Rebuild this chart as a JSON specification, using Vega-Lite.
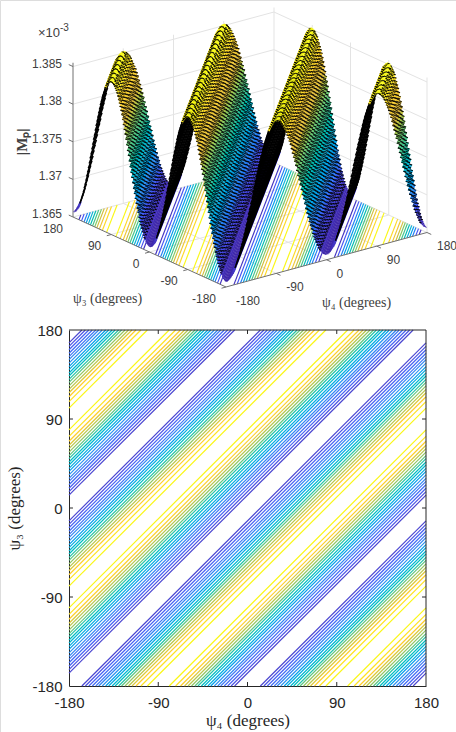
{"$schema":"https://vega.github.io/schema/vega-lite/v6.json","width":456,"height":732,"autosize":{"type":"none"},"padding":0,"background":"white",
"datasets":{
"surface":[
{"d":-360,"z":1.3657},{"d":-358,"z":1.3657},{"d":-356,"z":1.3658},{"d":-354,"z":1.3659},{"d":-352,"z":1.3661},{"d":-350,"z":1.3663},{"d":-348,"z":1.3665},{"d":-346,"z":1.3668},{"d":-344,"z":1.3672},{"d":-342,"z":1.3676},{"d":-340,"z":1.368},{"d":-338,"z":1.3684},{"d":-336,"z":1.3689},{"d":-334,"z":1.3695},{"d":-332,"z":1.37},{"d":-330,"z":1.3706},{"d":-328,"z":1.3712},{"d":-326,"z":1.3718},{"d":-324,"z":1.3724},{"d":-322,"z":1.3731},{"d":-320,"z":1.3738},{"d":-318,"z":1.3744},{"d":-316,"z":1.3751},{"d":-314,"z":1.3758},{"d":-312,"z":1.3765},{"d":-310,"z":1.3771},{"d":-308,"z":1.3778},{"d":-306,"z":1.3785},{"d":-304,"z":1.3791},{"d":-302,"z":1.3797},{"d":-300,"z":1.3803},{"d":-298,"z":1.3809},{"d":-296,"z":1.3815},{"d":-294,"z":1.382},{"d":-292,"z":1.3825},{"d":-290,"z":1.3829},{"d":-288,"z":1.3833},{"d":-286,"z":1.3837},{"d":-284,"z":1.3841},{"d":-282,"z":1.3844},{"d":-280,"z":1.3846},{"d":-278,"z":1.3848},{"d":-276,"z":1.385},{"d":-274,"z":1.3851},{"d":-272,"z":1.3852},{"d":-270,"z":1.3852},
{"d":-268,"z":1.3852},{"d":-266,"z":1.3851},{"d":-264,"z":1.385},{"d":-262,"z":1.3848},{"d":-260,"z":1.3846},{"d":-258,"z":1.3844},{"d":-256,"z":1.3841},{"d":-254,"z":1.3837},{"d":-252,"z":1.3833},{"d":-250,"z":1.3829},{"d":-248,"z":1.3825},{"d":-246,"z":1.382},{"d":-244,"z":1.3815},{"d":-242,"z":1.3809},{"d":-240,"z":1.3803},{"d":-238,"z":1.3797},{"d":-236,"z":1.3791},{"d":-234,"z":1.3785},{"d":-232,"z":1.3778},{"d":-230,"z":1.3771},{"d":-228,"z":1.3765},{"d":-226,"z":1.3758},{"d":-224,"z":1.3751},{"d":-222,"z":1.3744},{"d":-220,"z":1.3738},{"d":-218,"z":1.3731},{"d":-216,"z":1.3724},{"d":-214,"z":1.3718},{"d":-212,"z":1.3712},{"d":-210,"z":1.3706},{"d":-208,"z":1.37},{"d":-206,"z":1.3695},{"d":-204,"z":1.3689},{"d":-202,"z":1.3684},{"d":-200,"z":1.368},{"d":-198,"z":1.3676},{"d":-196,"z":1.3672},{"d":-194,"z":1.3668},{"d":-192,"z":1.3665},{"d":-190,"z":1.3663},{"d":-188,"z":1.3661},{"d":-186,"z":1.3659},{"d":-184,"z":1.3658},{"d":-182,"z":1.3657},
{"d":-180,"z":1.3657},{"d":-178,"z":1.3657},{"d":-176,"z":1.3658},{"d":-174,"z":1.3659},{"d":-172,"z":1.3661},{"d":-170,"z":1.3663},{"d":-168,"z":1.3665},{"d":-166,"z":1.3668},{"d":-164,"z":1.3672},{"d":-162,"z":1.3676},{"d":-160,"z":1.368},{"d":-158,"z":1.3684},{"d":-156,"z":1.3689},{"d":-154,"z":1.3695},{"d":-152,"z":1.37},{"d":-150,"z":1.3706},{"d":-148,"z":1.3712},{"d":-146,"z":1.3718},{"d":-144,"z":1.3724},{"d":-142,"z":1.3731},{"d":-140,"z":1.3738},{"d":-138,"z":1.3744},{"d":-136,"z":1.3751},{"d":-134,"z":1.3758},{"d":-132,"z":1.3765},{"d":-130,"z":1.3771},{"d":-128,"z":1.3778},{"d":-126,"z":1.3785},{"d":-124,"z":1.3791},{"d":-122,"z":1.3797},{"d":-120,"z":1.3803},{"d":-118,"z":1.3809},{"d":-116,"z":1.3815},{"d":-114,"z":1.382},{"d":-112,"z":1.3825},{"d":-110,"z":1.3829},{"d":-108,"z":1.3833},{"d":-106,"z":1.3837},{"d":-104,"z":1.3841},{"d":-102,"z":1.3844},{"d":-100,"z":1.3846},{"d":-98,"z":1.3848},{"d":-96,"z":1.385},{"d":-94,"z":1.3851},{"d":-92,"z":1.3852},{"d":-90,"z":1.3852},
{"d":-88,"z":1.3852},{"d":-86,"z":1.3851},{"d":-84,"z":1.385},{"d":-82,"z":1.3848},{"d":-80,"z":1.3846},{"d":-78,"z":1.3844},{"d":-76,"z":1.3841},{"d":-74,"z":1.3837},{"d":-72,"z":1.3833},{"d":-70,"z":1.3829},{"d":-68,"z":1.3825},{"d":-66,"z":1.382},{"d":-64,"z":1.3815},{"d":-62,"z":1.3809},{"d":-60,"z":1.3803},{"d":-58,"z":1.3797},{"d":-56,"z":1.3791},{"d":-54,"z":1.3785},{"d":-52,"z":1.3778},{"d":-50,"z":1.3771},{"d":-48,"z":1.3765},{"d":-46,"z":1.3758},{"d":-44,"z":1.3751},{"d":-42,"z":1.3744},{"d":-40,"z":1.3738},{"d":-38,"z":1.3731},{"d":-36,"z":1.3724},{"d":-34,"z":1.3718},{"d":-32,"z":1.3712},{"d":-30,"z":1.3706},{"d":-28,"z":1.37},{"d":-26,"z":1.3695},{"d":-24,"z":1.3689},{"d":-22,"z":1.3684},{"d":-20,"z":1.368},{"d":-18,"z":1.3676},{"d":-16,"z":1.3672},{"d":-14,"z":1.3668},{"d":-12,"z":1.3665},{"d":-10,"z":1.3663},{"d":-8,"z":1.3661},{"d":-6,"z":1.3659},{"d":-4,"z":1.3658},{"d":-2,"z":1.3657},
{"d":0,"z":1.3657},{"d":2,"z":1.3657},{"d":4,"z":1.3658},{"d":6,"z":1.3659},{"d":8,"z":1.3661},{"d":10,"z":1.3663},{"d":12,"z":1.3665},{"d":14,"z":1.3668},{"d":16,"z":1.3672},{"d":18,"z":1.3676},{"d":20,"z":1.368},{"d":22,"z":1.3684},{"d":24,"z":1.3689},{"d":26,"z":1.3695},{"d":28,"z":1.37},{"d":30,"z":1.3706},{"d":32,"z":1.3712},{"d":34,"z":1.3718},{"d":36,"z":1.3724},{"d":38,"z":1.3731},{"d":40,"z":1.3738},{"d":42,"z":1.3744},{"d":44,"z":1.3751},{"d":46,"z":1.3758},{"d":48,"z":1.3765},{"d":50,"z":1.3771},{"d":52,"z":1.3778},{"d":54,"z":1.3785},{"d":56,"z":1.3791},{"d":58,"z":1.3797},{"d":60,"z":1.3803},{"d":62,"z":1.3809},{"d":64,"z":1.3815},{"d":66,"z":1.382},{"d":68,"z":1.3825},{"d":70,"z":1.3829},{"d":72,"z":1.3833},{"d":74,"z":1.3837},{"d":76,"z":1.3841},{"d":78,"z":1.3844},{"d":80,"z":1.3846},{"d":82,"z":1.3848},{"d":84,"z":1.385},{"d":86,"z":1.3851},{"d":88,"z":1.3852},{"d":90,"z":1.3852},
{"d":92,"z":1.3852},{"d":94,"z":1.3851},{"d":96,"z":1.385},{"d":98,"z":1.3848},{"d":100,"z":1.3846},{"d":102,"z":1.3844},{"d":104,"z":1.3841},{"d":106,"z":1.3837},{"d":108,"z":1.3833},{"d":110,"z":1.3829},{"d":112,"z":1.3825},{"d":114,"z":1.382},{"d":116,"z":1.3815},{"d":118,"z":1.3809},{"d":120,"z":1.3803},{"d":122,"z":1.3797},{"d":124,"z":1.3791},{"d":126,"z":1.3785},{"d":128,"z":1.3778},{"d":130,"z":1.3771},{"d":132,"z":1.3765},{"d":134,"z":1.3758},{"d":136,"z":1.3751},{"d":138,"z":1.3744},{"d":140,"z":1.3738},{"d":142,"z":1.3731},{"d":144,"z":1.3724},{"d":146,"z":1.3718},{"d":148,"z":1.3712},{"d":150,"z":1.3706},{"d":152,"z":1.37},{"d":154,"z":1.3695},{"d":156,"z":1.3689},{"d":158,"z":1.3684},{"d":160,"z":1.368},{"d":162,"z":1.3676},{"d":164,"z":1.3672},{"d":166,"z":1.3668},{"d":168,"z":1.3665},{"d":170,"z":1.3663},{"d":172,"z":1.3661},{"d":174,"z":1.3659},{"d":176,"z":1.3658},{"d":178,"z":1.3657},
{"d":180,"z":1.3657},{"d":182,"z":1.3657},{"d":184,"z":1.3658},{"d":186,"z":1.3659},{"d":188,"z":1.3661},{"d":190,"z":1.3663},{"d":192,"z":1.3665},{"d":194,"z":1.3668},{"d":196,"z":1.3672},{"d":198,"z":1.3676},{"d":200,"z":1.368},{"d":202,"z":1.3684},{"d":204,"z":1.3689},{"d":206,"z":1.3695},{"d":208,"z":1.37},{"d":210,"z":1.3706},{"d":212,"z":1.3712},{"d":214,"z":1.3718},{"d":216,"z":1.3724},{"d":218,"z":1.3731},{"d":220,"z":1.3738},{"d":222,"z":1.3744},{"d":224,"z":1.3751},{"d":226,"z":1.3758},{"d":228,"z":1.3765},{"d":230,"z":1.3771},{"d":232,"z":1.3778},{"d":234,"z":1.3785},{"d":236,"z":1.3791},{"d":238,"z":1.3797},{"d":240,"z":1.3803},{"d":242,"z":1.3809},{"d":244,"z":1.3815},{"d":246,"z":1.382},{"d":248,"z":1.3825},{"d":250,"z":1.3829},{"d":252,"z":1.3833},{"d":254,"z":1.3837},{"d":256,"z":1.3841},{"d":258,"z":1.3844},{"d":260,"z":1.3846},{"d":262,"z":1.3848},{"d":264,"z":1.385},{"d":266,"z":1.3851},{"d":268,"z":1.3852},{"d":270,"z":1.3852},
{"d":272,"z":1.3852},{"d":274,"z":1.3851},{"d":276,"z":1.385},{"d":278,"z":1.3848},{"d":280,"z":1.3846},{"d":282,"z":1.3844},{"d":284,"z":1.3841},{"d":286,"z":1.3837},{"d":288,"z":1.3833},{"d":290,"z":1.3829},{"d":292,"z":1.3825},{"d":294,"z":1.382},{"d":296,"z":1.3815},{"d":298,"z":1.3809},{"d":300,"z":1.3803},{"d":302,"z":1.3797},{"d":304,"z":1.3791},{"d":306,"z":1.3785},{"d":308,"z":1.3778},{"d":310,"z":1.3771},{"d":312,"z":1.3765},{"d":314,"z":1.3758},{"d":316,"z":1.3751},{"d":318,"z":1.3744},{"d":320,"z":1.3738},{"d":322,"z":1.3731},{"d":324,"z":1.3724},{"d":326,"z":1.3718},{"d":328,"z":1.3712},{"d":330,"z":1.3706},{"d":332,"z":1.37},{"d":334,"z":1.3695},{"d":336,"z":1.3689},{"d":338,"z":1.3684},{"d":340,"z":1.368},{"d":342,"z":1.3676},{"d":344,"z":1.3672},{"d":346,"z":1.3668},{"d":348,"z":1.3665},{"d":350,"z":1.3663},{"d":352,"z":1.3661},{"d":354,"z":1.3659},{"d":356,"z":1.3658},{"d":358,"z":1.3657},{"d":360,"z":1.3657}
],
"floorContours":[
{"d":-346,"z":1.3665},{"d":-340,"z":1.3682},{"d":-334,"z":1.3699},{"d":-329,"z":1.3715},{"d":-324,"z":1.3732},{"d":-319,"z":1.3749},{"d":-314,"z":1.3766},{"d":-309,"z":1.3783},{"d":-304,"z":1.38},{"d":-298,"z":1.3816},{"d":-291,"z":1.3833},{"d":-281,"z":1.385},
{"d":-194,"z":1.3665},{"d":-200,"z":1.3682},{"d":-206,"z":1.3699},{"d":-211,"z":1.3715},{"d":-216,"z":1.3732},{"d":-221,"z":1.3749},{"d":-226,"z":1.3766},{"d":-231,"z":1.3783},{"d":-236,"z":1.38},{"d":-242,"z":1.3816},{"d":-249,"z":1.3833},{"d":-259,"z":1.385},
{"d":-166,"z":1.3665},{"d":-160,"z":1.3682},{"d":-154,"z":1.3699},{"d":-149,"z":1.3715},{"d":-144,"z":1.3732},{"d":-139,"z":1.3749},{"d":-134,"z":1.3766},{"d":-129,"z":1.3783},{"d":-124,"z":1.38},{"d":-118,"z":1.3816},{"d":-111,"z":1.3833},{"d":-101,"z":1.385},
{"d":-14,"z":1.3665},{"d":-20,"z":1.3682},{"d":-26,"z":1.3699},{"d":-31,"z":1.3715},{"d":-36,"z":1.3732},{"d":-41,"z":1.3749},{"d":-46,"z":1.3766},{"d":-51,"z":1.3783},{"d":-56,"z":1.38},{"d":-62,"z":1.3816},{"d":-69,"z":1.3833},{"d":-79,"z":1.385},
{"d":14,"z":1.3665},{"d":20,"z":1.3682},{"d":26,"z":1.3699},{"d":31,"z":1.3715},{"d":36,"z":1.3732},{"d":41,"z":1.3749},{"d":46,"z":1.3766},{"d":51,"z":1.3783},{"d":56,"z":1.38},{"d":62,"z":1.3816},{"d":69,"z":1.3833},{"d":79,"z":1.385},
{"d":166,"z":1.3665},{"d":160,"z":1.3682},{"d":154,"z":1.3699},{"d":149,"z":1.3715},{"d":144,"z":1.3732},{"d":139,"z":1.3749},{"d":134,"z":1.3766},{"d":129,"z":1.3783},{"d":124,"z":1.38},{"d":118,"z":1.3816},{"d":111,"z":1.3833},{"d":101,"z":1.385},
{"d":194,"z":1.3665},{"d":200,"z":1.3682},{"d":206,"z":1.3699},{"d":211,"z":1.3715},{"d":216,"z":1.3732},{"d":221,"z":1.3749},{"d":226,"z":1.3766},{"d":231,"z":1.3783},{"d":236,"z":1.38},{"d":242,"z":1.3816},{"d":249,"z":1.3833},{"d":259,"z":1.385},
{"d":346,"z":1.3665},{"d":340,"z":1.3682},{"d":334,"z":1.3699},{"d":329,"z":1.3715},{"d":324,"z":1.3732},{"d":319,"z":1.3749},{"d":314,"z":1.3766},{"d":309,"z":1.3783},{"d":304,"z":1.38},{"d":298,"z":1.3816},{"d":291,"z":1.3833},{"d":281,"z":1.385}
],
"planContours":[
{"d":-347,"z":1.3665},{"d":-343.5,"z":1.3675},{"d":-340,"z":1.3686},{"d":-336.5,"z":1.3696},{"d":-333,"z":1.3706},{"d":-330,"z":1.3717},{"d":-326.5,"z":1.3727},{"d":-323,"z":1.3737},{"d":-320,"z":1.3747},{"d":-316.5,"z":1.3758},{"d":-313.5,"z":1.3768},{"d":-310,"z":1.3778},{"d":-307,"z":1.3789},{"d":-303.5,"z":1.3799},{"d":-300,"z":1.3809},{"d":-296.5,"z":1.3819},{"d":-292.5,"z":1.383},{"d":-287.5,"z":1.384},{"d":-281,"z":1.385},
{"d":-193,"z":1.3665},{"d":-196.5,"z":1.3675},{"d":-200,"z":1.3686},{"d":-203.5,"z":1.3696},{"d":-207,"z":1.3706},{"d":-210,"z":1.3717},{"d":-213.5,"z":1.3727},{"d":-217,"z":1.3737},{"d":-220,"z":1.3747},{"d":-223.5,"z":1.3758},{"d":-226.5,"z":1.3768},{"d":-230,"z":1.3778},{"d":-233,"z":1.3789},{"d":-236.5,"z":1.3799},{"d":-240,"z":1.3809},{"d":-243.5,"z":1.3819},{"d":-247.5,"z":1.383},{"d":-252.5,"z":1.384},{"d":-259,"z":1.385},
{"d":-167,"z":1.3665},{"d":-163.5,"z":1.3675},{"d":-160,"z":1.3686},{"d":-156.5,"z":1.3696},{"d":-153,"z":1.3706},{"d":-150,"z":1.3717},{"d":-146.5,"z":1.3727},{"d":-143,"z":1.3737},{"d":-140,"z":1.3747},{"d":-136.5,"z":1.3758},{"d":-133.5,"z":1.3768},{"d":-130,"z":1.3778},{"d":-127,"z":1.3789},{"d":-123.5,"z":1.3799},{"d":-120,"z":1.3809},{"d":-116.5,"z":1.3819},{"d":-112.5,"z":1.383},{"d":-107.5,"z":1.384},{"d":-101,"z":1.385},
{"d":-13,"z":1.3665},{"d":-16.5,"z":1.3675},{"d":-20,"z":1.3686},{"d":-23.5,"z":1.3696},{"d":-27,"z":1.3706},{"d":-30,"z":1.3717},{"d":-33.5,"z":1.3727},{"d":-37,"z":1.3737},{"d":-40,"z":1.3747},{"d":-43.5,"z":1.3758},{"d":-46.5,"z":1.3768},{"d":-50,"z":1.3778},{"d":-53,"z":1.3789},{"d":-56.5,"z":1.3799},{"d":-60,"z":1.3809},{"d":-63.5,"z":1.3819},{"d":-67.5,"z":1.383},{"d":-72.5,"z":1.384},{"d":-79,"z":1.385},
{"d":13,"z":1.3665},{"d":16.5,"z":1.3675},{"d":20,"z":1.3686},{"d":23.5,"z":1.3696},{"d":27,"z":1.3706},{"d":30,"z":1.3717},{"d":33.5,"z":1.3727},{"d":37,"z":1.3737},{"d":40,"z":1.3747},{"d":43.5,"z":1.3758},{"d":46.5,"z":1.3768},{"d":50,"z":1.3778},{"d":53,"z":1.3789},{"d":56.5,"z":1.3799},{"d":60,"z":1.3809},{"d":63.5,"z":1.3819},{"d":67.5,"z":1.383},{"d":72.5,"z":1.384},{"d":79,"z":1.385},
{"d":167,"z":1.3665},{"d":163.5,"z":1.3675},{"d":160,"z":1.3686},{"d":156.5,"z":1.3696},{"d":153,"z":1.3706},{"d":150,"z":1.3717},{"d":146.5,"z":1.3727},{"d":143,"z":1.3737},{"d":140,"z":1.3747},{"d":136.5,"z":1.3758},{"d":133.5,"z":1.3768},{"d":130,"z":1.3778},{"d":127,"z":1.3789},{"d":123.5,"z":1.3799},{"d":120,"z":1.3809},{"d":116.5,"z":1.3819},{"d":112.5,"z":1.383},{"d":107.5,"z":1.384},{"d":101,"z":1.385},
{"d":193,"z":1.3665},{"d":196.5,"z":1.3675},{"d":200,"z":1.3686},{"d":203.5,"z":1.3696},{"d":207,"z":1.3706},{"d":210,"z":1.3717},{"d":213.5,"z":1.3727},{"d":217,"z":1.3737},{"d":220,"z":1.3747},{"d":223.5,"z":1.3758},{"d":226.5,"z":1.3768},{"d":230,"z":1.3778},{"d":233,"z":1.3789},{"d":236.5,"z":1.3799},{"d":240,"z":1.3809},{"d":243.5,"z":1.3819},{"d":247.5,"z":1.383},{"d":252.5,"z":1.384},{"d":259,"z":1.385},
{"d":347,"z":1.3665},{"d":343.5,"z":1.3675},{"d":340,"z":1.3686},{"d":336.5,"z":1.3696},{"d":333,"z":1.3706},{"d":330,"z":1.3717},{"d":326.5,"z":1.3727},{"d":323,"z":1.3737},{"d":320,"z":1.3747},{"d":316.5,"z":1.3758},{"d":313.5,"z":1.3768},{"d":310,"z":1.3778},{"d":307,"z":1.3789},{"d":303.5,"z":1.3799},{"d":300,"z":1.3809},{"d":296.5,"z":1.3819},{"d":292.5,"z":1.383},{"d":287.5,"z":1.384},{"d":281,"z":1.385}
],
"grid":[
{"p4a":-180,"p3a":-90,"za":1.365,"p4b":180,"p3b":-90,"zb":1.365},{"p4a":-180,"p3a":0,"za":1.365,"p4b":180,"p3b":0,"zb":1.365},{"p4a":-180,"p3a":90,"za":1.365,"p4b":180,"p3b":90,"zb":1.365},{"p4a":-180,"p3a":180,"za":1.365,"p4b":180,"p3b":180,"zb":1.365},
{"p4a":-90,"p3a":-180,"za":1.365,"p4b":-90,"p3b":180,"zb":1.365},{"p4a":0,"p3a":-180,"za":1.365,"p4b":0,"p3b":180,"zb":1.365},{"p4a":90,"p3a":-180,"za":1.365,"p4b":90,"p3b":180,"zb":1.365},{"p4a":180,"p3a":-180,"za":1.365,"p4b":180,"p3b":180,"zb":1.365},
{"p4a":-180,"p3a":180,"za":1.37,"p4b":180,"p3b":180,"zb":1.37},{"p4a":-180,"p3a":180,"za":1.375,"p4b":180,"p3b":180,"zb":1.375},{"p4a":-180,"p3a":180,"za":1.38,"p4b":180,"p3b":180,"zb":1.38},{"p4a":-180,"p3a":180,"za":1.385,"p4b":180,"p3b":180,"zb":1.385},
{"p4a":180,"p3a":-180,"za":1.37,"p4b":180,"p3b":180,"zb":1.37},{"p4a":180,"p3a":-180,"za":1.375,"p4b":180,"p3b":180,"zb":1.375},{"p4a":180,"p3a":-180,"za":1.38,"p4b":180,"p3b":180,"zb":1.38},{"p4a":180,"p3a":-180,"za":1.385,"p4b":180,"p3b":180,"zb":1.385},
{"p4a":-90,"p3a":180,"za":1.365,"p4b":-90,"p3b":180,"zb":1.3856},{"p4a":0,"p3a":180,"za":1.365,"p4b":0,"p3b":180,"zb":1.3856},{"p4a":90,"p3a":180,"za":1.365,"p4b":90,"p3b":180,"zb":1.3856},{"p4a":180,"p3a":180,"za":1.365,"p4b":180,"p3b":180,"zb":1.3856},
{"p4a":180,"p3a":90,"za":1.365,"p4b":180,"p3b":90,"zb":1.3856},{"p4a":180,"p3a":0,"za":1.365,"p4b":180,"p3b":0,"zb":1.3856},{"p4a":180,"p3a":-90,"za":1.365,"p4b":180,"p3b":-90,"zb":1.3856},{"p4a":180,"p3a":-180,"za":1.365,"p4b":180,"p3b":-180,"zb":1.3856}
],
"axes3d":[
{"p4a":-180,"p3a":180,"za":1.365,"p4b":-180,"p3b":180,"zb":1.3855},{"p4a":-180,"p3a":180,"za":1.365,"p4b":-180,"p3b":-180,"zb":1.365},{"p4a":-180,"p3a":-180,"za":1.365,"p4b":180,"p3b":-180,"zb":1.365},
{"p4a":-180,"p3a":180,"za":1.365,"p4b":-180,"p3b":190,"zb":1.365},{"p4a":-180,"p3a":180,"za":1.37,"p4b":-180,"p3b":190,"zb":1.37},{"p4a":-180,"p3a":180,"za":1.375,"p4b":-180,"p3b":190,"zb":1.375},{"p4a":-180,"p3a":180,"za":1.38,"p4b":-180,"p3b":190,"zb":1.38},{"p4a":-180,"p3a":180,"za":1.385,"p4b":-180,"p3b":190,"zb":1.385},
{"p4a":-180,"p3a":90,"za":1.365,"p4b":-188,"p3b":90,"zb":1.365},{"p4a":-180,"p3a":0,"za":1.365,"p4b":-188,"p3b":0,"zb":1.365},{"p4a":-180,"p3a":-90,"za":1.365,"p4b":-188,"p3b":-90,"zb":1.365},{"p4a":-180,"p3a":-180,"za":1.365,"p4b":-188,"p3b":-180,"zb":1.365},
{"p4a":-90,"p3a":-180,"za":1.365,"p4b":-90,"p3b":-190,"zb":1.365},{"p4a":0,"p3a":-180,"za":1.365,"p4b":0,"p3b":-190,"zb":1.365},{"p4a":90,"p3a":-180,"za":1.365,"p4b":90,"p3b":-190,"zb":1.365},{"p4a":180,"p3a":-180,"za":1.365,"p4b":180,"p3b":-190,"zb":1.365}
],
"zLabels":[{"t":"1.385","p4":-180,"p3":180,"z":1.385},{"t":"1.38","p4":-180,"p3":180,"z":1.38},{"t":"1.375","p4":-180,"p3":180,"z":1.375},{"t":"1.37","p4":-180,"p3":180,"z":1.37},{"t":"1.365","p4":-180,"p3":180,"z":1.365}],
"psi3Labels":[{"t":"180","p4":-180,"p3":180,"z":1.365},{"t":"90","p4":-180,"p3":90,"z":1.365},{"t":"0","p4":-180,"p3":0,"z":1.365},{"t":"-90","p4":-180,"p3":-90,"z":1.365},{"t":"-180","p4":-180,"p3":-180,"z":1.365}],
"psi4Labels":[{"t":"-180","p4":-180,"p3":-180,"z":1.365},{"t":"-90","p4":-90,"p3":-180,"z":1.365},{"t":"0","p4":0,"p3":-180,"z":1.365},{"t":"90","p4":90,"p3":-180,"z":1.365},{"t":"180","p4":180,"p3":-180,"z":1.365}],
"planFrame":[
{"x":-180,"y":180,"x2":180,"y2":180},{"x":180,"y":-180,"x2":180,"y2":180},
{"x":-90,"y":-180,"x2":-90,"y2":-176},{"x":0,"y":-180,"x2":0,"y2":-176},{"x":90,"y":-180,"x2":90,"y2":-176},
{"x":-90,"y":180,"x2":-90,"y2":176},{"x":0,"y":180,"x2":0,"y2":176},{"x":90,"y":180,"x2":90,"y2":176},
{"x":-180,"y":-90,"x2":-176,"y2":-90},{"x":-180,"y":0,"x2":-176,"y2":0},{"x":-180,"y":90,"x2":-176,"y2":90},
{"x":180,"y":-90,"x2":176,"y2":-90},{"x":180,"y":0,"x2":176,"y2":0},{"x":180,"y":90,"x2":176,"y2":90}
]
},
"resolve":{"scale":{"x":"independent","y":"independent","color":"independent"}},
"layer":[
{"encoding":{"x":{"field":"xa","type":"quantitative","axis":null,"scale":{"domain":[0,456],"range":[0,456],"nice":false,"zero":false}},"y":{"field":"ya","type":"quantitative","axis":null,"scale":{"domain":[0,732],"range":[0,732],"nice":false,"zero":false}},"x2":{"field":"xb"},"y2":{"field":"yb"}},
"layer":[
{"data":{"name":"grid"},"transform":[{"calculate":"226+(datum.p4a+180)*0.5583-(datum.p3a+180)*0.425","as":"xa"},{"calculate":"287-(datum.p4a+180)*0.1514-(datum.p3a+180)*0.1944-(datum.za-1.365)*7525","as":"ya"},{"calculate":"226+(datum.p4b+180)*0.5583-(datum.p3b+180)*0.425","as":"xb"},{"calculate":"287-(datum.p4b+180)*0.1514-(datum.p3b+180)*0.1944-(datum.zb-1.365)*7525","as":"yb"}],"mark":{"type":"rule","stroke":"#e3e3e3","strokeWidth":1}},
{"data":{"name":"floorContours"},"transform":[{"calculate":"max(datum.d,0)-180","as":"p4a"},{"calculate":"datum.p4a-datum.d","as":"p3a"},{"calculate":"min(datum.d,0)+180","as":"p4b"},{"calculate":"datum.p4b-datum.d","as":"p3b"},{"calculate":"226+(datum.p4a+180)*0.5583-(datum.p3a+180)*0.425","as":"xa"},{"calculate":"287-(datum.p4a+180)*0.1514-(datum.p3a+180)*0.1944","as":"ya"},{"calculate":"226+(datum.p4b+180)*0.5583-(datum.p3b+180)*0.425","as":"xb"},{"calculate":"287-(datum.p4b+180)*0.1514-(datum.p3b+180)*0.1944","as":"yb"}],"mark":{"type":"rule","strokeWidth":1.15},"encoding":{"color":{"field":"z","type":"quantitative","legend":null,"scale":{"domain":[1.3657,1.36814,1.37058,1.37301,1.37545,1.37789,1.38033,1.38276,1.3852],"range":["#3e26a8","#4650f3","#2f8ef0","#1fb0d8","#1fbfa0","#6dc870","#e0bc3c","#fdd02c","#f9fb15"]}}}},
{"data":{"name":"axes3d"},"transform":[{"calculate":"226+(datum.p4a+180)*0.5583-(datum.p3a+180)*0.425","as":"xa"},{"calculate":"287-(datum.p4a+180)*0.1514-(datum.p3a+180)*0.1944-(datum.za-1.365)*7525","as":"ya"},{"calculate":"226+(datum.p4b+180)*0.5583-(datum.p3b+180)*0.425","as":"xb"},{"calculate":"287-(datum.p4b+180)*0.1514-(datum.p3b+180)*0.1944-(datum.zb-1.365)*7525","as":"yb"}],"mark":{"type":"rule","stroke":"#707070","strokeWidth":1}},
{"data":{"name":"surface"},"transform":[{"calculate":"max(datum.d,0)-180","as":"p4a"},{"calculate":"datum.p4a-datum.d","as":"p3a"},{"calculate":"min(datum.d,0)+180","as":"p4b"},{"calculate":"datum.p4b-datum.d","as":"p3b"},{"calculate":"226+(datum.p4a+180)*0.5583-(datum.p3a+180)*0.425","as":"xa"},{"calculate":"287-(datum.p4a+180)*0.1514-(datum.p3a+180)*0.1944-(datum.z-1.365)*7525","as":"ya"},{"calculate":"226+(datum.p4b+180)*0.5583-(datum.p3b+180)*0.425","as":"xb"},{"calculate":"287-(datum.p4b+180)*0.1514-(datum.p3b+180)*0.1944-(datum.z-1.365)*7525","as":"yb"},{"calculate":"1.2+1.9*abs(sin(datum.d*PI/90))","as":"w"}],
"encoding":{"size":{"field":"w","type":"quantitative","scale":null,"legend":null},"color":{"field":"z","type":"quantitative","legend":null,"scale":{"domain":[1.3657,1.36814,1.37058,1.37301,1.37545,1.37789,1.38033,1.38276,1.3852],"range":["#3e26a8","#4650f3","#2f8ef0","#1fb0d8","#1fbfa0","#6dc870","#e0bc3c","#fdd02c","#f9fb15"]}}},
"layer":[
{"transform":[{"filter":{"field":"d","range":[-360,-345]}}],"mark":{"type":"rule"}},
{"transform":[{"filter":{"field":"d","range":[-345,-285]}}],"mark":{"type":"rule"},"encoding":{"color":{"value":"#000000"},"size":{"value":1.5}}},
{"transform":[{"filter":{"field":"d","range":[-285,-165]}}],"mark":{"type":"rule"}},
{"transform":[{"filter":{"field":"d","range":[-285,-264]}}],"mark":{"type":"rule","strokeDash":[1,3.6]},"encoding":{"color":{"value":"#000000"}}},
{"transform":[{"filter":{"field":"d","range":[-264,-192]}}],"mark":{"type":"rule","strokeDash":[1,2.4],"strokeOpacity":0.85},"encoding":{"color":{"value":"#000000"}}},
{"transform":[{"filter":{"field":"d","range":[-264,-192]}}],"mark":{"type":"rule","strokeDash":[1,2.4],"strokeOpacity":0.85},"encoding":{"color":{"value":"#000000"},"x":{"field":"xb","type":"quantitative"},"y":{"field":"yb","type":"quantitative"},"x2":{"field":"xa"},"y2":{"field":"ya"}}},
{"transform":[{"filter":{"field":"d","range":[-165,-105]}}],"mark":{"type":"rule"},"encoding":{"color":{"value":"#000000"},"size":{"value":1.5}}},
{"transform":[{"filter":{"field":"d","range":[-105,15]}}],"mark":{"type":"rule"}},
{"transform":[{"filter":{"field":"d","range":[-105,-84]}}],"mark":{"type":"rule","strokeDash":[1,3.6]},"encoding":{"color":{"value":"#000000"}}},
{"transform":[{"filter":{"field":"d","range":[-84,-12]}}],"mark":{"type":"rule","strokeDash":[1,2.4],"strokeOpacity":0.85},"encoding":{"color":{"value":"#000000"}}},
{"transform":[{"filter":{"field":"d","range":[-84,-12]}}],"mark":{"type":"rule","strokeDash":[1,2.4],"strokeOpacity":0.85},"encoding":{"color":{"value":"#000000"},"x":{"field":"xb","type":"quantitative"},"y":{"field":"yb","type":"quantitative"},"x2":{"field":"xa"},"y2":{"field":"ya"}}},
{"transform":[{"filter":{"field":"d","range":[15,75]}}],"mark":{"type":"rule"},"encoding":{"color":{"value":"#000000"},"size":{"value":1.5}}},
{"transform":[{"filter":{"field":"d","range":[75,195]}}],"mark":{"type":"rule"}},
{"transform":[{"filter":{"field":"d","range":[75,96]}}],"mark":{"type":"rule","strokeDash":[1,3.6]},"encoding":{"color":{"value":"#000000"}}},
{"transform":[{"filter":{"field":"d","range":[96,168]}}],"mark":{"type":"rule","strokeDash":[1,2.4],"strokeOpacity":0.85},"encoding":{"color":{"value":"#000000"}}},
{"transform":[{"filter":{"field":"d","range":[96,168]}}],"mark":{"type":"rule","strokeDash":[1,2.4],"strokeOpacity":0.85},"encoding":{"color":{"value":"#000000"},"x":{"field":"xb","type":"quantitative"},"y":{"field":"yb","type":"quantitative"},"x2":{"field":"xa"},"y2":{"field":"ya"}}},
{"transform":[{"filter":{"field":"d","range":[195,255]}}],"mark":{"type":"rule"},"encoding":{"color":{"value":"#000000"},"size":{"value":1.5}}},
{"transform":[{"filter":{"field":"d","range":[255,360]}}],"mark":{"type":"rule"}},
{"transform":[{"filter":{"field":"d","range":[255,276]}}],"mark":{"type":"rule","strokeDash":[1,3.6]},"encoding":{"color":{"value":"#000000"}}},
{"transform":[{"filter":{"field":"d","range":[276,348]}}],"mark":{"type":"rule","strokeDash":[1,2.4],"strokeOpacity":0.85},"encoding":{"color":{"value":"#000000"}}},
{"transform":[{"filter":{"field":"d","range":[276,348]}}],"mark":{"type":"rule","strokeDash":[1,2.4],"strokeOpacity":0.85},"encoding":{"color":{"value":"#000000"},"x":{"field":"xb","type":"quantitative"},"y":{"field":"yb","type":"quantitative"},"x2":{"field":"xa"},"y2":{"field":"ya"}}}
]},
{"data":{"name":"zLabels"},"transform":[{"calculate":"226+(datum.p4+180)*0.5583-(datum.p3+180)*0.425","as":"xa"},{"calculate":"287-(datum.p4+180)*0.1514-(datum.p3+180)*0.1944-(datum.z-1.365)*7525","as":"ya"}],"mark":{"type":"text","font":"Liberation Sans","fontSize":12,"fill":"#404040","align":"right","baseline":"middle","dx":-11,"dy":-3},"encoding":{"x2":null,"y2":null,"text":{"field":"t"}}},
{"data":{"name":"psi3Labels"},"transform":[{"calculate":"226+(datum.p4+180)*0.5583-(datum.p3+180)*0.425","as":"xa"},{"calculate":"287-(datum.p4+180)*0.1514-(datum.p3+180)*0.1944-(datum.z-1.365)*7525","as":"ya"}],"mark":{"type":"text","font":"Liberation Sans","fontSize":12,"fill":"#404040","align":"right","baseline":"middle","dx":-10,"dy":11.5},"encoding":{"x2":null,"y2":null,"text":{"field":"t"}}},
{"data":{"name":"psi4Labels"},"transform":[{"calculate":"226+(datum.p4+180)*0.5583-(datum.p3+180)*0.425","as":"xa"},{"calculate":"287-(datum.p4+180)*0.1514-(datum.p3+180)*0.1944-(datum.z-1.365)*7525","as":"ya"}],"mark":{"type":"text","font":"Liberation Sans","fontSize":12,"fill":"#404040","align":"left","baseline":"middle","dx":10,"dy":14},"encoding":{"x2":null,"y2":null,"text":{"field":"t"}}},
{"data":{"values":[{"t":"ψ₃ (degrees)","p4":-180,"p3":0,"z":1.365}]},"transform":[{"calculate":"226+(datum.p4+180)*0.5583-(datum.p3+180)*0.425","as":"xa"},{"calculate":"287-(datum.p4+180)*0.1514-(datum.p3+180)*0.1944-(datum.z-1.365)*7525","as":"ya"}],"mark":{"type":"text","font":"Liberation Serif","fontSize":14,"fill":"#404040","align":"center","baseline":"middle","dx":-42,"dy":47},"encoding":{"x2":null,"y2":null,"text":{"field":"t"}}},
{"data":{"values":[{"t":"ψ₄ (degrees)","p4":0,"p3":-180,"z":1.365}]},"transform":[{"calculate":"226+(datum.p4+180)*0.5583-(datum.p3+180)*0.425","as":"xa"},{"calculate":"287-(datum.p4+180)*0.1514-(datum.p3+180)*0.1944-(datum.z-1.365)*7525","as":"ya"}],"mark":{"type":"text","font":"Liberation Serif","fontSize":14,"fill":"#404040","align":"center","baseline":"middle","dx":30,"dy":43},"encoding":{"x2":null,"y2":null,"text":{"field":"t"}}},
{"data":{"values":[{"t":"|Mₚ|","p4":-180,"p3":180,"z":1.375}]},"transform":[{"calculate":"226+(datum.p4+180)*0.5583-(datum.p3+180)*0.425","as":"xa"},{"calculate":"287-(datum.p4+180)*0.1514-(datum.p3+180)*0.1944-(datum.z-1.365)*7525","as":"ya"}],"mark":{"type":"text","font":"Liberation Serif","fontSize":15,"fontWeight":"bold","fill":"#404040","align":"center","baseline":"middle","angle":270,"dx":0,"dy":-51},"encoding":{"x2":null,"y2":null,"text":{"field":"t"}}},
{"data":{"values":[{"t":"×10","p4":-180,"p3":180,"z":1.385}]},"transform":[{"calculate":"226+(datum.p4+180)*0.5583-(datum.p3+180)*0.425","as":"xa"},{"calculate":"287-(datum.p4+180)*0.1514-(datum.p3+180)*0.1944-(datum.z-1.365)*7525","as":"ya"}],"mark":{"type":"text","font":"Liberation Sans","fontSize":13,"fill":"#404040","align":"right","baseline":"middle","dx":-13,"dy":-34},"encoding":{"x2":null,"y2":null,"text":{"field":"t"}}},
{"data":{"values":[{"t":"-3","p4":-180,"p3":180,"z":1.385}]},"transform":[{"calculate":"226+(datum.p4+180)*0.5583-(datum.p3+180)*0.425","as":"xa"},{"calculate":"287-(datum.p4+180)*0.1514-(datum.p3+180)*0.1944-(datum.z-1.365)*7525","as":"ya"}],"mark":{"type":"text","font":"Liberation Sans","fontSize":10,"fill":"#404040","align":"left","baseline":"middle","dx":-13,"dy":-39},"encoding":{"x2":null,"y2":null,"text":{"field":"t"}}}
]},
{"layer":[
{"data":{"name":"planContours"},"transform":[{"calculate":"max(datum.d,0)-180","as":"p4a"},{"calculate":"datum.p4a-datum.d","as":"p3a"},{"calculate":"min(datum.d,0)+180","as":"p4b"},{"calculate":"datum.p4b-datum.d","as":"p3b"}],"mark":{"type":"rule","strokeWidth":1.2},
"encoding":{"x":{"field":"p4a","type":"quantitative","scale":{"domain":[-180,180],"range":[69,426],"nice":false,"zero":false},"axis":{"orient":"bottom","offset":-46,"values":[-180,-90,0,90,180],"grid":false,"ticks":false,"domain":true,"domainColor":"#262626","labelFont":"Liberation Sans","labelFontSize":15,"labelColor":"#262626","labelPadding":9,"labelFlush":false,"labelOverlap":false,"labelExpr":"toString(datum.value)","title":"ψ₄ (degrees)","titleFont":"Liberation Serif","titleFontSize":17,"titleFontWeight":"normal","titleColor":"#262626","titlePadding":2}},"y":{"field":"p3a","type":"quantitative","scale":{"domain":[-180,180],"range":[686,330],"nice":false,"zero":false},"axis":{"orient":"left","offset":-69,"values":[-180,-90,0,90,180],"grid":false,"ticks":false,"domain":true,"domainColor":"#262626","labelFont":"Liberation Sans","labelFontSize":15,"labelColor":"#262626","labelPadding":7,"labelFlush":false,"labelOverlap":false,"labelExpr":"toString(datum.value)","title":"ψ₃ (degrees)","titleFont":"Liberation Serif","titleFontSize":17,"titleFontWeight":"normal","titleColor":"#262626","titlePadding":8}},"x2":{"field":"p4b"},"y2":{"field":"p3b"},"color":{"field":"z","type":"quantitative","legend":null,"scale":{"domain":[1.3657,1.36814,1.37058,1.37301,1.37545,1.37789,1.38033,1.38276,1.3852],"range":["#4a3cc0","#4a5cf3","#3f78f5","#2f95f0","#1fb4d8","#29c4a6","#a8c455","#fdc92f","#f9fb15"]}}}},
{"data":{"name":"planFrame"},"mark":{"type":"rule","stroke":"#262626","strokeWidth":1},"encoding":{"x":{"field":"x","type":"quantitative"},"y":{"field":"y","type":"quantitative"},"x2":{"field":"x2"},"y2":{"field":"y2"}}}
]}
]}
